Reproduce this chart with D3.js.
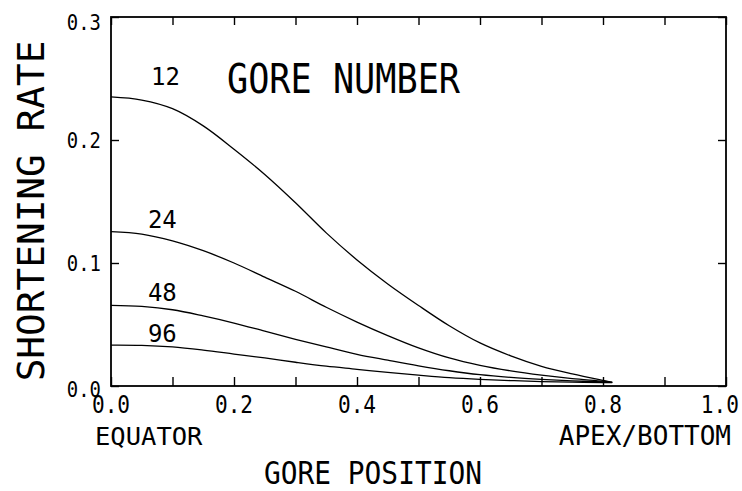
<!DOCTYPE html>
<html>
<head>
<meta charset="utf-8">
<script src="https://cdn.jsdelivr.net/npm/d3@7/dist/d3.min.js"></script>
<style>
  html, body { margin: 0; padding: 0; background: #fff; }
  svg { display: block; }
  text { font-family: "DejaVu Sans Mono", "Liberation Mono", monospace; fill: #000; }
</style>
</head>
<body>
<svg id="chart" width="742" height="491"></svg>
<script>
// Gore position along the meridian (0 = equator, 1 = apex/bottom)
const positions = [0, 0.05, 0.1, 0.15, 0.2, 0.25, 0.3, 0.35, 0.4, 0.45, 0.5, 0.55, 0.6, 0.65, 0.7, 0.75, 0.8, 0.815];

// Shortening rate for each gore number
const rate12 = [0.235, 0.2325, 0.2255, 0.2115, 0.1925, 0.172, 0.149, 0.1245, 0.1025, 0.083, 0.0655, 0.049, 0.035, 0.0245, 0.016, 0.0098, 0.0045, 0.003];
const rate24 = [0.1255, 0.1235, 0.118, 0.110, 0.100, 0.0885, 0.077, 0.064, 0.052, 0.041, 0.031, 0.0228, 0.0168, 0.0123, 0.0088, 0.006, 0.0039, 0.003];
const rate48 = [0.0655, 0.0647, 0.062, 0.057, 0.0512, 0.0446, 0.038, 0.0318, 0.0258, 0.021, 0.0164, 0.0124, 0.0092, 0.007, 0.0054, 0.0042, 0.0033, 0.003];
const rate96 = [0.0333, 0.0331, 0.0318, 0.0292, 0.026, 0.0228, 0.0193, 0.0161, 0.0136, 0.011, 0.0088, 0.0068, 0.0054, 0.0044, 0.0036, 0.0031, 0.0028, 0.0027];

const goreNumbers = ["12", "24", "48", "96"];
const seriesValues = [rate12, rate24, rate48, rate96];
// where each gore-number label sits, in data units (position, rate)
const labelAnchors = [[0.065, 0.245], [0.06, 0.1288], [0.06, 0.0691], [0.06, 0.0358]];

const xTicks = [0, 0.1, 0.2, 0.3, 0.4, 0.5, 0.6, 0.7, 0.8, 0.9, 1.0];
const xTickLabels = [0, 0.2, 0.4, 0.6, 0.8, 1.0];
const yTicks = [0, 0.1, 0.2, 0.3];

const svg = d3.select("#chart");
const L = 111, R = 726, T = 17, B = 386;

const x = d3.scaleLinear().domain([0, 1]).range([L, R]);
const y = d3.scaleLinear().domain([0, 0.3]).range([B, T]);

// monospace text squeezed horizontally to a narrow plotter-style face
function label(g, str, px, py, size, sx, anchor, rot) {
  return g.append("text")
    .attr("transform", `translate(${px},${py})${rot ? ` rotate(${rot})` : ""} scale(${sx},1)`)
    .attr("text-anchor", anchor || "start")
    .attr("font-size", size)
    .text(str);
}

// inward ticks on all four sides
svg.append("g").attr("transform", `translate(0,${B})`)
  .call(d3.axisBottom(x).tickValues(xTicks).tickSize(-9).tickFormat(""));
svg.append("g").attr("transform", `translate(0,${T})`)
  .call(d3.axisTop(x).tickValues(xTicks).tickSize(-8).tickFormat(""));
svg.append("g").attr("transform", `translate(${L},0)`)
  .call(d3.axisLeft(y).tickValues(yTicks).tickSize(-8).tickFormat(""));
svg.append("g").attr("transform", `translate(${R},0)`)
  .call(d3.axisRight(y).tickValues(yTicks).tickSize(-8).tickFormat(""));
svg.selectAll(".domain").remove();
svg.selectAll(".tick line").attr("stroke", "#000").attr("stroke-width", 1.4);

// frame
svg.append("rect")
  .attr("x", L).attr("y", T).attr("width", R - L).attr("height", B - T)
  .attr("fill", "none").attr("stroke", "#000").attr("stroke-width", 1.8);

// x tick labels (the last one is pulled in to stay on the page)
const gx = svg.append("g");
xTickLabels.forEach(v => {
  if (v === 1) label(gx, v.toFixed(1), 739, 413, 24, 0.88, "end");
  else label(gx, v.toFixed(1), x(v), 413, 24, 0.88, "middle");
});

// y tick labels
const gy = svg.append("g");
yTicks.forEach(v => {
  const dy = v === 0 ? 11 : v === 0.3 ? 13 : 7.5;
  label(gy, v.toFixed(1), 101, y(v) + dy, 21, 0.9, "end");
});

// curves
const line = d3.line()
  .x((d, i) => x(positions[i]))
  .y(d => y(d))
  .curve(d3.curveCatmullRom.alpha(0.5));

svg.append("g").selectAll("path").data(seriesValues).join("path")
  .attr("d", d => line(d))
  .attr("fill", "none")
  .attr("stroke", "#000")
  .attr("stroke-width", 1.3);

// gore-number labels
const gl = svg.append("g");
goreNumbers.forEach((n, i) => {
  label(gl, n, x(labelAnchors[i][0]), y(labelAnchors[i][1]), 25, 0.96, "start");
});

label(svg, "GORE NUMBER", 227, 93, 40, 0.88, "start");

// axis end captions
label(svg, "EQUATOR", 95, 445, 25, 1.02, "start");
label(svg, "APEX/BOTTOM", 731, 445, 26, 1.0, "end");

// axis titles
label(svg, "GORE POSITION", 373, 484, 32, 0.87, "middle");
label(svg, "SHORTENING RATE", 44, 211, 37, 1.02, "middle", -90);
</script>
</body>
</html>
